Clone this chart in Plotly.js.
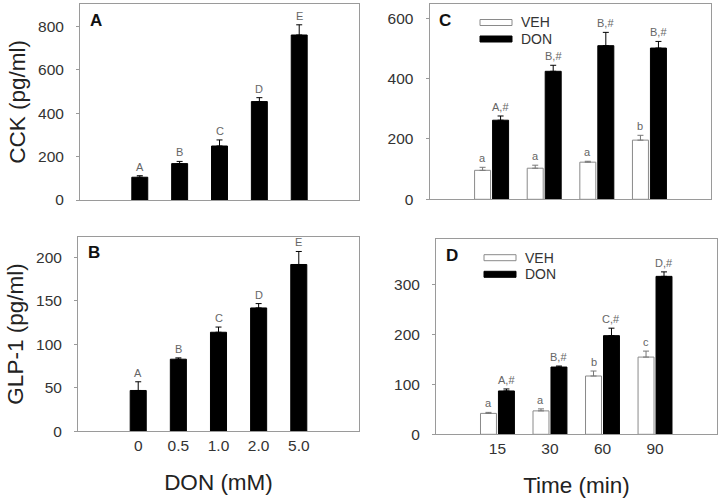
<!DOCTYPE html>
<html>
<head>
<meta charset="utf-8">
<script src="https://cdn.plot.ly/plotly-3.0.1.min.js"></script>
<style>html,body{margin:0;padding:0;background:#fff;}#chart{width:720px;height:499px;}</style>
</head>
<body>
<div id="chart"></div>
<script>
// ---- data ----
const doseCats = ['0', '0.5', '1.0', '2.0', '5.0'];
const cckDose = [105, 168, 249, 454, 761];
const cckDoseErr = [7, 10, 28, 18, 47];
const glpDose = [47, 83, 114, 142, 192];
const glpDoseErr = [10, 1.5, 6, 5, 15];
const doseLetters = ['A', 'B', 'C', 'D', 'E'];

const timeCats = ['15', '30', '60', '90'];
const cckVeh = [96, 103, 123, 196];
const cckVehErr = [10, 10, 3, 16];
const cckDon = [262, 424, 509, 501];
const cckDonErr = [14, 20, 44, 22];
const cckVehLetters = ['a', 'a', 'a', 'b'];
const cckDonLetters = ['A,#', 'B,#', 'B,#', 'B,#'];

const glpVeh = [42, 47, 117, 155];
const glpVehErr = [2, 4, 10, 12];
const glpDon = [87, 135, 198, 317];
const glpDonErr = [4, 2, 15, 9];
const glpVehLetters = ['a', 'a', 'b', 'c'];
const glpDonLetters = ['A,#', 'B,#', 'C,#', 'D,#'];

const seriesNames = ['VEH', 'DON'];

// ---- styling ----
const FONT = 'Liberation Sans, Arial, Helvetica, sans-serif';
const W = 720, H = 499;
const zeros = n => new Array(n).fill(0);

function errY(arr, color) {
  return {type: 'data', array: arr, arrayminus: zeros(arr.length), symmetric: false,
          color: color, thickness: 1, width: 3, visible: true};
}

const singleW = 0.4, singleOff = -0.2;
const grpW = 0.304, vehOff = -0.323, donOff = 0.019;

function blackBar(x, y, err, xa, ya, name, off, w) {
  return {type: 'bar', x: x, y: y, xaxis: xa, yaxis: ya, name: name, showlegend: false,
          width: w, offset: off,
          marker: {color: '#000', line: {color: '#000', width: 1}},
          error_y: errY(err, '#000'), hoverinfo: 'x+y'};
}
function whiteBar(x, y, err, xa, ya, name, off, w) {
  return {type: 'bar', x: x, y: y, xaxis: xa, yaxis: ya, name: name, showlegend: false,
          width: w, offset: off,
          marker: {color: '#fff', line: {color: '#8a8a8a', width: 1}},
          error_y: errY(err, '#777'), hoverinfo: 'x+y'};
}

const traces = [
  blackBar(doseCats, cckDose, cckDoseErr, 'x', 'y', 'DON', singleOff, singleW),
  blackBar(doseCats, glpDose, glpDoseErr, 'x2', 'y2', 'DON', singleOff, singleW),
  whiteBar(timeCats, cckVeh, cckVehErr, 'x3', 'y3', seriesNames[0], vehOff, grpW),
  blackBar(timeCats, cckDon, cckDonErr, 'x3', 'y3', seriesNames[1], donOff, grpW),
  whiteBar(timeCats, glpVeh, glpVehErr, 'x4', 'y4', seriesNames[0], vehOff, grpW),
  blackBar(timeCats, glpDon, glpDonErr, 'x4', 'y4', seriesNames[1], donOff, grpW)
];

const annotations = [];
function letters(labels, vals, errs, xa, ya, off, w) {
  labels.forEach((t, i) => {
    annotations.push({text: t, x: i + off + w / 2, y: vals[i] + errs[i], xref: xa, yref: ya,
      xanchor: 'center', yanchor: 'bottom', yshift: 1, showarrow: false,
      font: {family: FONT, size: 11, color: '#666666'}});
  });
}
letters(doseLetters, cckDose, cckDoseErr, 'x', 'y', singleOff, singleW);
letters(doseLetters, glpDose, glpDoseErr, 'x2', 'y2', singleOff, singleW);
letters(cckVehLetters, cckVeh, cckVehErr, 'x3', 'y3', vehOff, grpW);
letters(cckDonLetters, cckDon, cckDonErr, 'x3', 'y3', donOff, grpW);
letters(glpVehLetters, glpVeh, glpVehErr, 'x4', 'y4', vehOff, grpW);
letters(glpDonLetters, glpDon, glpDonErr, 'x4', 'y4', donOff, grpW);

// panel letters
const panelLetters = [['A', 'x domain', 'y domain'], ['B', 'x2 domain', 'y2 domain'],
                      ['C', 'x3 domain', 'y3 domain'], ['D', 'x4 domain', 'y4 domain']];
panelLetters.forEach(p => {
  annotations.push({text: '<b>' + p[0] + '</b>', xref: p[1], yref: p[2], x: 0.028, y: 0.918,
    xanchor: 'left', yanchor: 'middle', showarrow: false,
    font: {family: FONT, size: 17, color: '#111'}});
});

// custom legends (wide flat swatches, like the original)
const shapes = [];
function legend(xPx, yPx1, yPx2) {
  const px = v => v / W, py = v => (H - v) / H;
  shapes.push({type: 'rect', xref: 'paper', yref: 'paper', x0: px(xPx), x1: px(xPx + 32),
    y0: py(yPx1 + 3), y1: py(yPx1 - 3), fillcolor: '#fff', line: {color: '#8a8a8a', width: 1}});
  shapes.push({type: 'rect', xref: 'paper', yref: 'paper', x0: px(xPx), x1: px(xPx + 32),
    y0: py(yPx2 + 3), y1: py(yPx2 - 3), fillcolor: '#000', line: {color: '#000', width: 1}});
  [[seriesNames[0], yPx1], [seriesNames[1], yPx2]].forEach(s => {
    annotations.push({text: s[0], xref: 'paper', yref: 'paper', x: px(xPx + 39), y: py(s[1]),
      xanchor: 'left', yanchor: 'middle', showarrow: false,
      font: {family: FONT, size: 14, color: '#333'}});
  });
}
legend(480, 22.5, 39);
legend(484, 257.7, 274.3);

const tickFont = {family: FONT, size: 15.5, color: '#333'};
const titleFont = {family: FONT, size: 22.5, color: '#222'};

function xAxis(domain, anchor, cats, range, showLabels, title) {
  const a = {domain: domain, anchor: anchor, type: 'category', categoryorder: 'array',
    categoryarray: cats, range: range, showgrid: false, zeroline: false,
    showline: true, mirror: true, linecolor: '#9a9a9a', linewidth: 1,
    ticks: '', showticklabels: showLabels, tickfont: tickFont, fixedrange: true};
  if (title) a.title = {text: title, font: titleFont, standoff: 21};
  return a;
}
function yAxis(domain, anchor, range, dtick, title) {
  const a = {domain: domain, anchor: anchor, range: range, dtick: dtick, tick0: 0,
    showgrid: false, zeroline: false, showline: true, mirror: true,
    linecolor: '#9a9a9a', linewidth: 1, ticks: 'outside', ticklen: 3, tickcolor: '#9a9a9a',
    ticklabelstandoff: 9, tickfont: tickFont, fixedrange: true};
  if (title) a.title = {text: title, font: titleFont, standoff: 6};
  return a;
}

const layout = {
  width: W, height: H,
  margin: {l: 0, r: 0, t: 0, b: 0},
  paper_bgcolor: '#fff', plot_bgcolor: '#fff',
  barmode: 'overlay',
  showlegend: false,
  font: {family: FONT, color: '#333'},
  xaxis: xAxis([80 / W, 359 / W], 'y', doseCats, [-1.5, 5.5], false, null),
  yaxis: yAxis([(H - 200) / H, (H - 4) / H], 'x', [0, 904], 200, 'CCK (pg/ml)'),
  xaxis2: xAxis([78 / W, 359 / W], 'y2', doseCats, [-1.5, 5.5], true, 'DON (mM)'),
  yaxis2: yAxis([(H - 431.3) / H, (H - 236.7) / H], 'x2', [0, 224], 50, 'GLP-1 (pg/ml)'),
  xaxis3: xAxis([429.5 / W, 711 / W], 'y3', timeCats, [-1.18, 4.17], false, null),
  yaxis3: yAxis([(H - 199.3) / H, (H - 4) / H], 'x3', [0, 647], 200, null),
  xaxis4: xAxis([436 / W, 717 / W], 'y4', timeCats, [-1.17, 4.18], true, 'Time (min)'),
  yaxis4: yAxis([(H - 434.3) / H, (H - 239) / H], 'x4', [0, 392], 100, null),
  annotations: annotations,
  shapes: shapes
};

Plotly.newPlot('chart', traces, layout, {displayModeBar: false, staticPlot: true});
</script>
</body>
</html>
